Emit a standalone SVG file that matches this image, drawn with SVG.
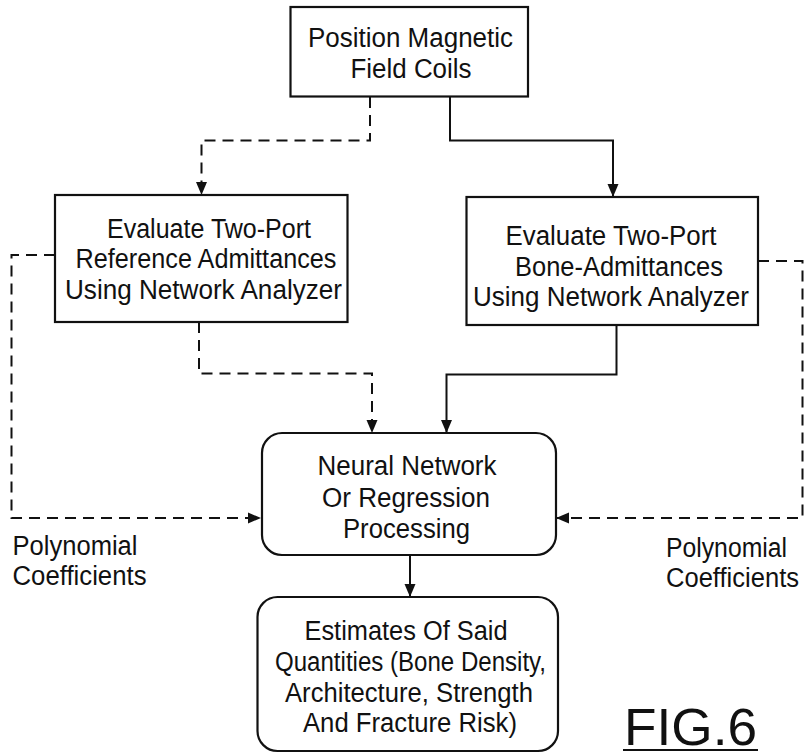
<svg xmlns="http://www.w3.org/2000/svg" width="805" height="755" viewBox="0 0 805 755">
<style>
  .box { fill: #fff; stroke: #111; stroke-width: 2.2; }
  .line { fill: none; stroke: #111; stroke-width: 2; }
  .dash { fill: none; stroke: #111; stroke-width: 2; stroke-dasharray: 11 7; }
  text { font-family: "Liberation Sans", Arial, Helvetica, sans-serif; fill: #111; font-size: 27px; }
  .t { text-anchor: middle; }
  .fig { font-size: 52px; }
</style>
<defs>
  <marker id="arr" markerUnits="userSpaceOnUse" markerWidth="14" markerHeight="14" viewBox="0 0 14 14" refX="13" refY="7" orient="auto">
    <path d="M0,1.5 L13,7 L0,12.5 Z" fill="#111"/>
  </marker>
</defs>
<rect width="805" height="755" fill="#fff"/>

<g id="connectors">
  <path class="dash" d="M370,97 V140.5 H201.5 V195" marker-end="url(#arr)"/>
  <path class="line" d="M450,97 V140.5 H613 V197" marker-end="url(#arr)"/>
  <path class="dash" d="M199,322 V373.5 H372 V433" marker-end="url(#arr)"/>
  <path class="line" d="M616.5,325 V374.5 H446.5 V433" marker-end="url(#arr)"/>
  <path class="dash" d="M55,255 H11.5 V518 H261" marker-end="url(#arr)"/>
  <path class="dash" d="M758,261 H802.5 V518 H556" marker-end="url(#arr)"/>
  <path class="line" d="M410,555 V597" marker-end="url(#arr)"/>
</g>

<g id="position-coils">
  <rect class="box" x="290.5" y="7" width="237.5" height="89.5"/>
  <text class="t" x="410.5" y="46.5" textLength="205" lengthAdjust="spacingAndGlyphs">Position Magnetic</text>
  <text class="t" x="411" y="77.5" textLength="121" lengthAdjust="spacingAndGlyphs">Field Coils</text>
</g>

<g id="reference-admittances">
  <rect class="box" x="55" y="195" width="292.5" height="127"/>
  <text class="t" x="209" y="237.5" textLength="204" lengthAdjust="spacingAndGlyphs">Evaluate Two-Port</text>
  <text class="t" x="206" y="268" textLength="261" lengthAdjust="spacingAndGlyphs">Reference Admittances</text>
  <text class="t" x="203.5" y="298.5" textLength="277" lengthAdjust="spacingAndGlyphs">Using Network Analyzer</text>
</g>

<g id="bone-admittances">
  <rect class="box" x="466.5" y="197" width="291.5" height="128"/>
  <text class="t" x="611" y="245" textLength="211" lengthAdjust="spacingAndGlyphs">Evaluate Two-Port</text>
  <text class="t" x="619" y="275.5" textLength="208" lengthAdjust="spacingAndGlyphs">Bone-Admittances</text>
  <text class="t" x="611" y="305.5" textLength="276" lengthAdjust="spacingAndGlyphs">Using Network Analyzer</text>
</g>

<g id="processing">
  <rect class="box" x="262" y="433" width="294" height="122" rx="20" ry="20"/>
  <text class="t" x="407" y="475" textLength="179" lengthAdjust="spacingAndGlyphs">Neural Network</text>
  <text class="t" x="406" y="506.5" textLength="168" lengthAdjust="spacingAndGlyphs">Or Regression</text>
  <text class="t" x="406.5" y="537.5" textLength="127" lengthAdjust="spacingAndGlyphs">Processing</text>
</g>

<g id="estimates">
  <rect class="box" x="257.5" y="597" width="300.5" height="154" rx="20" ry="20"/>
  <text class="t" x="406" y="640" textLength="203" lengthAdjust="spacingAndGlyphs">Estimates Of Said</text>
  <text class="t" x="410.5" y="670.5" textLength="271" lengthAdjust="spacingAndGlyphs">Quantities (Bone Density,</text>
  <text class="t" x="409" y="701.5" textLength="248" lengthAdjust="spacingAndGlyphs">Architecture, Strength</text>
  <text class="t" x="410" y="732" textLength="214" lengthAdjust="spacingAndGlyphs">And Fracture Risk)</text>
</g>

<g id="labels">
  <text x="12.5" y="555" textLength="125" lengthAdjust="spacingAndGlyphs">Polynomial</text>
  <text x="12.5" y="585" textLength="134" lengthAdjust="spacingAndGlyphs">Coefficients</text>
  <text x="666" y="557" textLength="121" lengthAdjust="spacingAndGlyphs">Polynomial</text>
  <text x="666" y="587" textLength="133" lengthAdjust="spacingAndGlyphs">Coefficients</text>
  <text class="fig" x="624" y="745" textLength="133" lengthAdjust="spacingAndGlyphs">FIG.6</text>
  <line x1="623" y1="750" x2="758" y2="750" stroke="#111" stroke-width="2.2"/>
</g>
</svg>
